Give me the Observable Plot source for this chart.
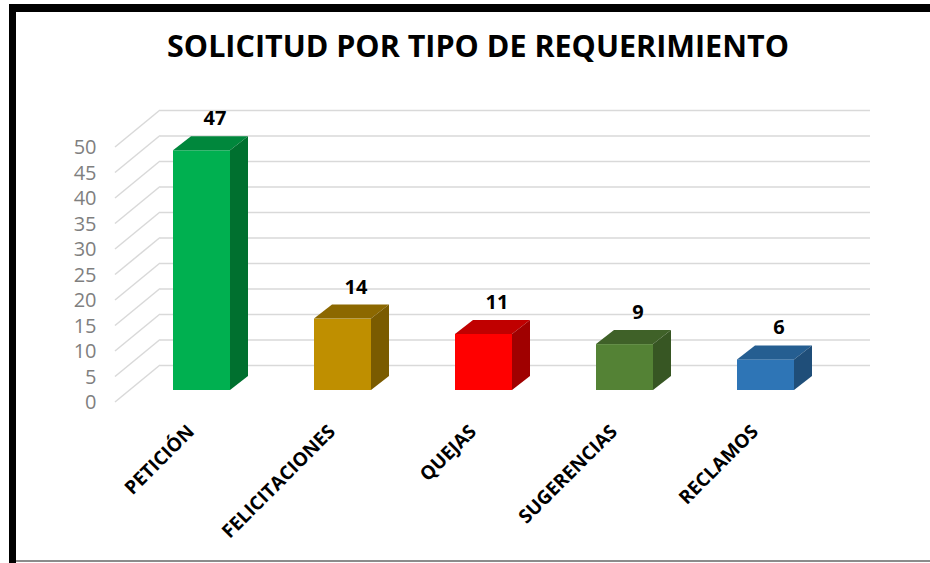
<!DOCTYPE html>
<html>
<head>
<meta charset="utf-8">
<script src="https://cdn.jsdelivr.net/npm/d3@7"></script>
<script src="https://cdn.jsdelivr.net/npm/@observablehq/plot@0.6"></script>
<style>
  body { margin: 0; background: #fff; }
  #wrap { position: relative; width: 930px; height: 563px; overflow: hidden; font-family: "Open Sans", sans-serif; background: #fff; }
  #chart { position: absolute; left: 0; top: 0; }
  #frameL { position: absolute; left: 9px; top: 4px; width: 7px; height: 559px; background: #000; }
  #frameT { position: absolute; left: 9px; top: 4px; width: 921px; height: 8px; background: #000; }
  #frameB { position: absolute; left: 16px; top: 560px; width: 914px; height: 2px; background: #8c8c8c; }
  #title { position: absolute; left: 13px; width: 930px; top: 30px; text-align: center; font-family: "Open Sans", sans-serif; font-weight: 700; font-size: 30.5px; line-height: 30px; color: #000; white-space: nowrap; }
</style>
</head>
<body>
<div id="wrap">
  <div id="chart"></div>
  <div id="frameL"></div>
  <div id="frameT"></div>
  <div id="frameB"></div>
  <div id="title">SOLICITUD POR TIPO DE REQUERIMIENTO</div>
</div>
<script>
// ---- data ----
const categories = ["PETICIÓN", "FELICITACIONES", "QUEJAS", "SUGERENCIAS", "RECLAMOS"];
const counts = [47, 14, 11, 9, 6];
const frontColors = ["#00B050", "#BF8F00", "#FF0000", "#548235", "#2E75B6"];
const topColors = ["#00873C", "#8C6800", "#C00000", "#3F6128", "#255E91"];
const sideColors = ["#00702F", "#7A5B00", "#A00000", "#375623", "#1F4E79"];
const yTicks = [0, 5, 10, 15, 20, 25, 30, 35, 40, 45, 50];

const data = categories.map((c, i) => ({cat: c, value: counts[i], front: frontColors[i], top: topColors[i], side: sideColors[i]}));

// 3D offsets (pixels)
const DEPTH_DX = 18, DEPTH_DY = 14;      // bar depth
const WALL_DX = 45, FRONT_DY = 12, BACK_DY = 25; // wall geometry relative to bar base plane

function sideWall(index, scales, vals, dims) {
  const y = scales.y;
  const g = d3.create("svg:g");
  for (const v of yTicks) {
    const yy = y(v);
    g.append("line")
      .attr("x1", dims.marginLeft - WALL_DX).attr("y1", yy + FRONT_DY)
      .attr("x2", dims.marginLeft).attr("y2", yy - BACK_DY)
      .attr("stroke", "#d9d9d9").attr("stroke-width", 1.5);
  }
  return g.node();
}

function boxFaces(index, scales, vals, dims) {
  const x = scales.x, y = scales.y;
  const bw = typeof x.bandwidth === "function" ? x.bandwidth() : scales.scales.x.bandwidth;
  const g = d3.create("svg:g");
  data.forEach(d => {
    const x0 = x(d.cat), x1 = x0 + bw, yt = y(d.value), yb = y(0);
    g.append("path")
      .attr("d", `M${x0},${yt}L${x0 + DEPTH_DX},${yt - DEPTH_DY}L${x1 + DEPTH_DX},${yt - DEPTH_DY}L${x1},${yt}Z`)
      .attr("fill", d.top);
    g.append("path")
      .attr("d", `M${x1},${yt}L${x1 + DEPTH_DX},${yt - DEPTH_DY}L${x1 + DEPTH_DX},${yb - DEPTH_DY}L${x1},${yb}Z`)
      .attr("fill", d.side);
  });
  return g.node();
}

const chart = Plot.plot({
  width: 930,
  height: 563,
  marginLeft: 160,
  marginRight: 60,
  marginTop: 0,
  marginBottom: 0,
  style: {background: "transparent", fontFamily: "Open Sans", overflow: "visible"},
  x: {type: "band", domain: categories, range: [87.6, 878.6], padding: 0.597, axis: null},
  y: {domain: [0, 50], range: [390, 135], axis: null},
  color: {type: "identity"},
  marks: [
    Plot.ruleY(yTicks, {y: d => d, dy: -BACK_DY, stroke: "#d9d9d9", strokeWidth: 1.5}),
    sideWall,
    Plot.barY(data, {x: "cat", y: "value", fill: "front"}),
    boxFaces,
    Plot.text(yTicks, {y: d => d, text: d => String(d), frameAnchor: "left", dx: -64, dy: 12.5, textAnchor: "end", fontSize: 20, fill: "#7f7f7f"}),
    Plot.text(data, {x: "cat", y: "value", text: d => String(d.value), dx: 13, dy: -32, fontSize: 20, fontWeight: "bold", fill: "#000"}),
    Plot.text(data, {x: "cat", y: d => 0, text: "cat", rotate: -45, textAnchor: "end", dx: -11, dy: 38, fontSize: 19, fontWeight: "bold", fill: "#000"})
  ]
});
document.getElementById("chart").appendChild(chart);
</script>
</body>
</html>
